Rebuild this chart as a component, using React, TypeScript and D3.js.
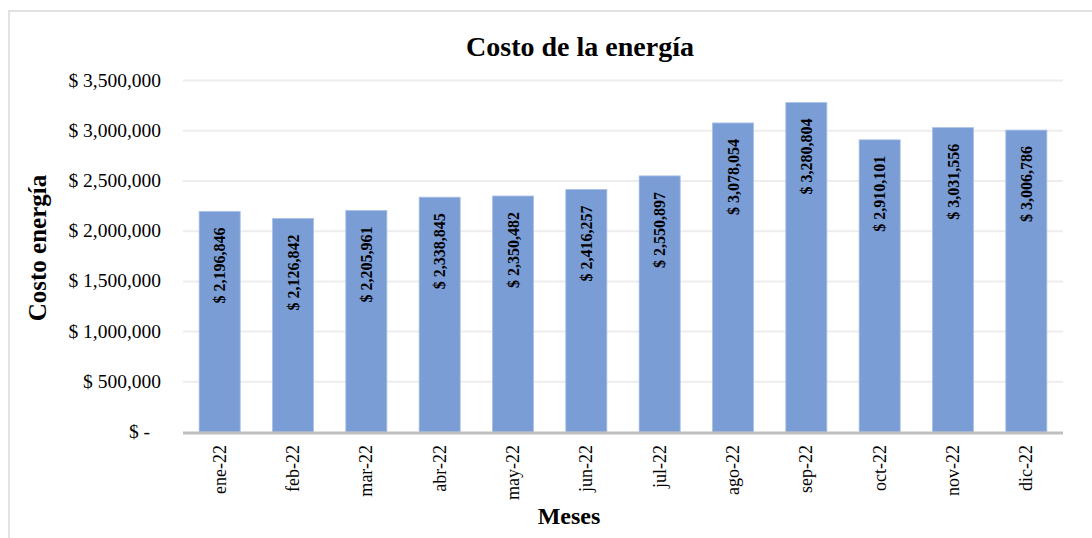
import React, { useEffect, useRef } from 'react'
import * as d3 from 'd3'

const months = ['ene-22', 'feb-22', 'mar-22', 'abr-22', 'may-22', 'jun-22', 'jul-22', 'ago-22', 'sep-22', 'oct-22', 'nov-22', 'dic-22']
const costs = [2196846, 2126842, 2205961, 2338845, 2350482, 2416257, 2550897, 3078054, 3280804, 2910101, 3031556, 3006786]
const yTicks = [0, 500000, 1000000, 1500000, 2000000, 2500000, 3000000, 3500000]

const W = 1092
const H = 538
const FONT = '"Liberation Serif", "Times New Roman", serif'

export default function App() {
  const ref = useRef<SVGSVGElement>(null)

  useEffect(() => {
    const svg = d3.select(ref.current)
    svg.selectAll('*').remove()

    const left = 183
    const right = 1063
    const top = 80.6
    const bottom = 432

    const x = d3.scaleBand().domain(months).range([left, right]).paddingInner(0.44).paddingOuter(0.22)
    const y = d3.scaleLinear().domain([0, 3500000]).range([bottom, top])
    const money = d3.format(',')

    // chart frame
    svg.append('rect')
      .attr('x', 9).attr('y', 11)
      .attr('width', 1100).attr('height', 560)
      .attr('fill', '#fff').attr('stroke', '#D9D9D9').attr('stroke-width', 1.5)

    // gridlines
    svg.append('g').selectAll('line')
      .data(yTicks.filter(d => d > 0))
      .enter().append('line')
      .attr('x1', left).attr('x2', right)
      .attr('y1', d => y(d)).attr('y2', d => y(d))
      .attr('stroke', '#EDEDED').attr('stroke-width', 2)

    // y tick labels
    svg.append('g').selectAll('text')
      .data(yTicks)
      .enter().append('text')
      .attr('x', d => (d === 0 ? 150 : 161))
      .attr('y', d => y(d) + 6)
      .attr('text-anchor', 'end')
      .attr('font-family', FONT).attr('font-size', 19.5).attr('fill', '#000')
      .text(d => (d === 0 ? '$ -' : `$ ${money(d)}`))

    // bars
    svg.append('g').selectAll('rect')
      .data(costs)
      .enter().append('rect')
      .attr('x', (d, i) => x(months[i]) as number)
      .attr('y', d => y(d))
      .attr('width', x.bandwidth())
      .attr('height', d => bottom - y(d))
      .attr('fill', '#7B9DD6')
      .attr('stroke', '#A9C0E6').attr('stroke-width', 0.8)

    // bar labels
    svg.append('g').selectAll('text')
      .data(costs)
      .enter().append('text')
      .attr('transform', (d, i) => `translate(${(x(months[i]) as number) + x.bandwidth() / 2 + 5.5},${y(d) + 16}) rotate(-90)`)
      .attr('text-anchor', 'end')
      .attr('font-family', FONT).attr('font-size', 16).attr('font-weight', 'bold').attr('fill', '#000')
      .text(d => `$ ${money(d)}`)

    // x axis line
    svg.append('line')
      .attr('x1', left).attr('x2', right)
      .attr('y1', bottom + 1).attr('y2', bottom + 1)
      .attr('stroke', '#BFBFBF').attr('stroke-width', 3)

    // x tick labels
    svg.append('g').selectAll('text')
      .data(months)
      .enter().append('text')
      .attr('transform', d => `translate(${(x(d) as number) + x.bandwidth() / 2 + 6},445) rotate(-90)`)
      .attr('text-anchor', 'end')
      .attr('font-family', FONT).attr('font-size', 18).attr('fill', '#000')
      .text(d => d)

    // titles
    svg.append('text')
      .attr('x', 580).attr('y', 56)
      .attr('text-anchor', 'middle')
      .attr('font-family', FONT).attr('font-size', 28).attr('font-weight', 'bold')
      .text('Costo de la energía')

    svg.append('text')
      .attr('transform', `translate(46,248) rotate(-90)`)
      .attr('text-anchor', 'middle')
      .attr('font-family', FONT).attr('font-size', 25).attr('font-weight', 'bold')
      .text('Costo energía')

    svg.append('text')
      .attr('x', 569).attr('y', 524)
      .attr('text-anchor', 'middle')
      .attr('font-family', FONT).attr('font-size', 24).attr('font-weight', 'bold')
      .text('Meses')
  }, [])

  return (
    <svg ref={ref} width={W} height={H} style={{ position: 'absolute', left: 0, top: 0, background: '#fff' }} />
  )
}
